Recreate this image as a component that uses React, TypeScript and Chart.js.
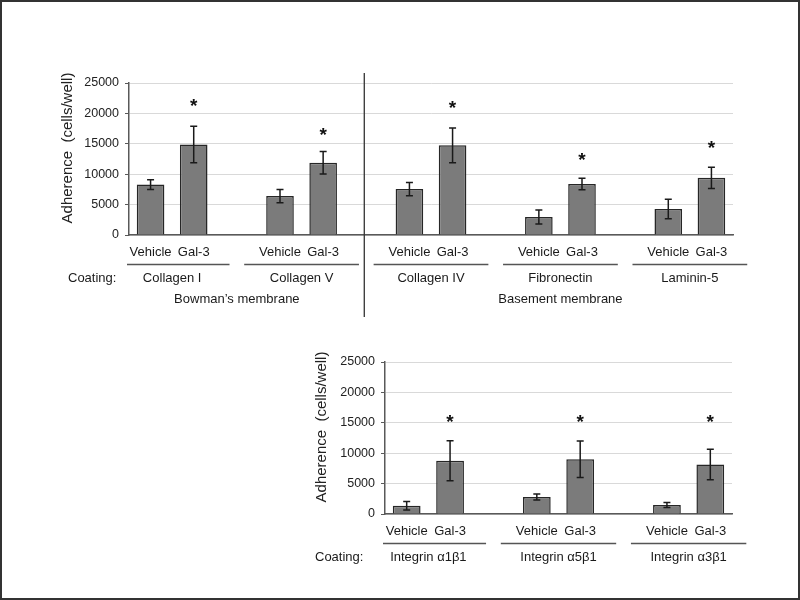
import React, { useEffect, useRef } from 'react';
import { Chart, registerables } from 'chart.js';

Chart.register(...registerables);

// ---------- data ----------
const topLabels = ['Vehicle', 'Gal-3', '', 'Vehicle', 'Gal-3', '', 'Vehicle', 'Gal-3', '', 'Vehicle', 'Gal-3', '', 'Vehicle', 'Gal-3'];
const topValues = [8300, 14900, null, 6400, 11900, null, 7550, 14750, null, 2950, 8400, null, 4270, 9400];
const topErrors = [800, 3000, null, 1100, 1850, null, 1100, 2850, null, 1150, 950, null, 1600, 1750];
const topStars = [null, 22000, null, null, 17300, null, null, 21700, null, null, 13200, null, null, 15100];
const topGroups = ['Collagen I', 'Collagen V', 'Collagen IV', 'Fibronectin', 'Laminin-5'];
const topSections = ['Bowman\u2019s membrane', 'Basement membrane'];
const topSectionGroups = [[0, 1], [2, 4]];

const bottomLabels = ['Vehicle', 'Gal-3', '', 'Vehicle', 'Gal-3', '', 'Vehicle', 'Gal-3'];
const bottomValues = [1370, 8750, null, 2790, 9000, null, 1480, 8150];
const bottomErrors = [700, 3300, null, 500, 3000, null, 400, 2500];
const bottomStars = [null, 15900, null, null, 15900, null, null, 15900];
const bottomGroups = ['Integrin \u03b11\u03b21', 'Integrin \u03b15\u03b21', 'Integrin \u03b13\u03b21'];

const yMin = 0;
const yMax = 25000;
const yStep = 5000;
const yTitle = 'Adherence  (cells/well)';
const coatingLabel = 'Coating:';

const FONT = "'Liberation Sans', Arial, Helvetica, sans-serif";
Chart.defaults.font.family = FONT;

type Cfg = {
  errors: (number | null)[];
  values: (number | null)[];
  stars: (number | null)[];
  groups: string[];
  sections?: string[];
  sectionGroups?: number[][];
  coatingOffset: number;
  titleX: number;
  divider?: boolean;
};

function makePlugin(cfg: Cfg) {
  return {
    id: 'annot',
    afterDatasetsDraw(chart: any) {
      const ctx = chart.ctx;
      const xs = chart.scales.x;
      const ys = chart.scales.y;
      const area = chart.chartArea;
      const meta = chart.getDatasetMeta(0);
      const step = xs.getPixelForValue(1) - xs.getPixelForValue(0);
      ctx.save();
      // error bars
      ctx.strokeStyle = '#1a1a1a';
      ctx.lineWidth = 1.5;
      cfg.errors.forEach((e, i) => {
        const v = cfg.values[i];
        if (e == null || v == null) return;
        const x = meta.data[i].x;
        const yt = ys.getPixelForValue(v + e);
        const yb = ys.getPixelForValue(v - e);
        ctx.beginPath();
        ctx.moveTo(x, yt);
        ctx.lineTo(x, yb);
        ctx.moveTo(x - 3.5, yt);
        ctx.lineTo(x + 3.5, yt);
        ctx.moveTo(x - 3.5, yb);
        ctx.lineTo(x + 3.5, yb);
        ctx.stroke();
      });
      // stars
      ctx.fillStyle = '#111';
      ctx.font = `bold 19px ${FONT}`;
      ctx.textAlign = 'center';
      ctx.textBaseline = 'alphabetic';
      cfg.stars.forEach((s, i) => {
        if (s == null) return;
        const x = xs.getPixelForValue(i);
        ctx.fillText('*', x, ys.getPixelForValue(s) + 11);
      });
      // y title
      ctx.save();
      ctx.font = `15px ${FONT}`;
      ctx.fillStyle = '#222';
      ctx.textBaseline = 'middle';
      ctx.translate(cfg.titleX, (area.top + area.bottom) / 2 - 11);
      ctx.rotate(-Math.PI / 2);
      ctx.fillText(yTitle, 0, 0);
      ctx.restore();
      // category labels
      ctx.font = `13px ${FONT}`;
      ctx.fillStyle = '#1a1a1a';
      ctx.textAlign = 'center';
      ctx.textBaseline = 'middle';
      chart.data.labels.forEach((l: string, i: number) => {
        if (!l) return;
        ctx.fillText(l, xs.getPixelForValue(i), area.bottom + 17.5);
      });
      // group underlines + names
      const groupCenters: number[] = [];
      cfg.groups.forEach((g, gi) => {
        const i0 = gi * 3;
        const xa = xs.getPixelForValue(i0);
        const xb = xs.getPixelForValue(i0 + 1);
        const left = Math.max(xa - step * 0.83, area.left - 2);
        const right = xb + step * 0.83;
        ctx.strokeStyle = '#555';
        ctx.lineWidth = 1.3;
        ctx.beginPath();
        ctx.moveTo(left, area.bottom + 29.5);
        ctx.lineTo(right, area.bottom + 29.5);
        ctx.stroke();
        const c = (xa + xb) / 2;
        groupCenters.push(c);
        ctx.fillText(g, c, area.bottom + 43);
      });
      // Coating label
      ctx.textAlign = 'left';
      ctx.fillText(coatingLabel, area.left + cfg.coatingOffset, area.bottom + 43);
      // sections
      ctx.textAlign = 'center';
      if (cfg.sections && cfg.sectionGroups) {
        cfg.sections.forEach((s, si) => {
          const [a, b] = cfg.sectionGroups![si];
          const c = (groupCenters[a] + groupCenters[b]) / 2;
          ctx.fillText(s, c, area.bottom + 64);
        });
      }
      // divider
      if (cfg.divider) {
        const xd = xs.getPixelForValue(5) - 2;
        ctx.strokeStyle = '#333';
        ctx.lineWidth = 1.3;
        ctx.beginPath();
        ctx.moveTo(xd, area.top - 10);
        ctx.lineTo(xd, area.bottom + 82);
        ctx.stroke();
      }
      ctx.restore();
    },
  };
}

function buildConfig(labels: string[], values: (number | null)[], pad: any, cfg: Cfg): any {
  return {
    type: 'bar',
    data: {
      labels,
      datasets: [
        {
          data: values,
          backgroundColor: '#7b7b7b',
          borderColor: '#262626',
          borderWidth: 1.5,
          barPercentage: 0.64,
          categoryPercentage: 1,
        },
      ],
    },
    options: {
      responsive: false,
      animation: false,
      layout: { padding: pad },
      plugins: { legend: { display: false }, tooltip: { enabled: false } },
      scales: {
        x: {
          ticks: { display: false },
          grid: { display: false },
          border: { color: '#595959', width: 1.5 },
          afterFit: (s: any) => {
            s.height = 0;
          },
        },
        y: {
          min: yMin,
          max: yMax,
          ticks: {
            stepSize: yStep,
            color: '#222',
            font: { size: 12.5 },
            padding: 6,
            callback: (v: any) => String(v),
          },
          grid: { color: '#d9d9d9', tickLength: 4, tickColor: '#595959', lineWidth: 1 },
          border: { color: '#595959', width: 1.5 },
          title: { display: false },
          afterFit: (s: any) => {
            s.width = 129;
          },
        },
      },
    },
    plugins: [makePlugin(cfg)],
  };
}

export default function App() {
  const topRef = useRef<HTMLCanvasElement>(null);
  const botRef = useRef<HTMLCanvasElement>(null);

  useEffect(() => {
    document.body.style.margin = '0';
    const c1 = new Chart(
      topRef.current!,
      buildConfig(topLabels, topValues, { left: 0, right: 67, top: 83, bottom: 85 }, {
        errors: topErrors,
        values: topValues,
        stars: topStars,
        groups: topGroups,
        sections: topSections,
        sectionGroups: topSectionGroups,
        coatingOffset: -61,
        titleX: 68,
        divider: true,
      })
    );
    const c2 = new Chart(
      botRef.current!,
      buildConfig(bottomLabels, bottomValues, { left: 256, right: 68, top: 32, bottom: 86 }, {
        errors: bottomErrors,
        values: bottomValues,
        stars: bottomStars,
        groups: bottomGroups,
        coatingOffset: -70,
        titleX: 322,
      })
    );
    return () => {
      c1.destroy();
      c2.destroy();
    };
  }, []);

  return (
    <div style={{ position: 'relative', width: 800, height: 600, background: '#fff', overflow: 'hidden' }}>
      <canvas ref={topRef} width={800} height={320} style={{ position: 'absolute', left: 0, top: 0 }} />
      <canvas ref={botRef} width={800} height={270} style={{ position: 'absolute', left: 0, top: 330 }} />
      <div
        style={{
          position: 'absolute',
          left: 0,
          top: 0,
          width: 800,
          height: 600,
          boxSizing: 'border-box',
          border: '2px solid #333',
          pointerEvents: 'none',
        }}
      />
    </div>
  );
}
